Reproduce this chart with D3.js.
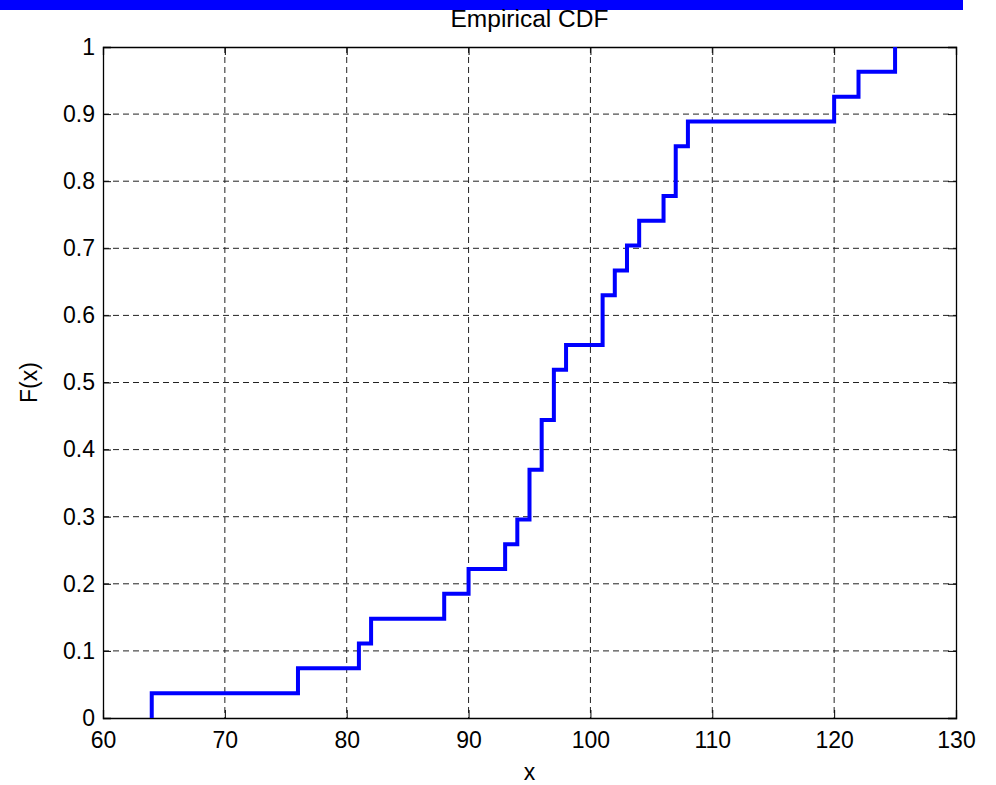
<!DOCTYPE html>
<html>
<head>
<meta charset="utf-8">
<script src="https://cdn.jsdelivr.net/npm/d3@7"></script>
<style>
body{margin:0;background:#fff}
text{font-family:"Liberation Sans",Arial,sans-serif;fill:#000}
</style>
</head>
<body>
<div id="chart"></div>
<script>
// step locations and the cumulative proportion after each step
var stepX = [64,76,81,82,88,90,93,94,95,96,97,98,101,102,103,104,106,107,108,120,122,125]
var stepF = [0.037,0.074,0.111,0.148,0.185,0.222,0.259,0.296,0.370,0.444,0.519,0.556,0.630,0.667,0.704,0.741,0.778,0.852,0.889,0.926,0.963,1]
var xTicks = [60,70,80,90,100,110,120,130]
var yTicks = [0,0.1,0.2,0.3,0.4,0.5,0.6,0.7,0.8,0.9,1]

var W = 996, H = 785
var m = {left:103, right:956, top:47, bottom:718}

var svg = d3.select("#chart").append("svg")
  .attr("width",W).attr("height",H)

var x = d3.scaleLinear().domain([60,130]).range([m.left,m.right])
var y = d3.scaleLinear().domain([0,1]).range([m.bottom,m.top])

// blue strip across the top
svg.append("rect").attr("x",0).attr("y",0).attr("width",963).attr("height",10).attr("fill","#0000ff")

// grid
svg.selectAll(".gx").data(xTicks.slice(1,-1)).enter().append("line")
  .attr("x1",d=>x(d)).attr("x2",d=>x(d)).attr("y1",m.top).attr("y2",m.bottom)
  .attr("stroke","#222").attr("stroke-width",1).attr("stroke-dasharray","6,4")
svg.selectAll(".gy").data(yTicks.slice(1,-1)).enter().append("line")
  .attr("y1",d=>y(d)).attr("y2",d=>y(d)).attr("x1",m.left).attr("x2",m.right)
  .attr("stroke","#222").attr("stroke-width",1).attr("stroke-dasharray","6,4")

// axes (ticks point inward)
var tl = 8
svg.append("g").attr("transform","translate(0,"+m.bottom+")")
  .call(d3.axisBottom(x).tickValues(xTicks).tickSize(-tl).tickPadding(14).tickFormat(d3.format("d")))
svg.append("g").attr("transform","translate(0,"+m.top+")")
  .call(d3.axisTop(x).tickValues(xTicks).tickSize(-tl).tickFormat(""))
svg.append("g").attr("transform","translate("+m.left+",0)")
  .call(d3.axisLeft(y).tickValues(yTicks).tickSize(-tl).tickPadding(8).tickFormat(d=>d===0||d===1?d3.format("d")(d):d3.format(".1f")(d)))
svg.append("g").attr("transform","translate("+m.right+",0)")
  .call(d3.axisRight(y).tickValues(yTicks).tickSize(-tl).tickFormat(""))

svg.selectAll(".domain").attr("stroke","#000").attr("stroke-width",1.3)
svg.selectAll(".tick line").attr("stroke","#000")
svg.selectAll(".tick text").attr("font-size",23).attr("font-family","Liberation Sans, Arial, sans-serif").attr("fill","#000")

// the step curve
var pts = [[stepX[0],0]]
stepX.forEach((v,i)=>{
  pts.push([v,stepF[i]])
  if(i<stepX.length-1) pts.push([stepX[i+1],stepF[i]])
})
svg.append("path").datum(pts)
  .attr("d",d3.line().x(d=>x(d[0])).y(d=>y(d[1])))
  .attr("fill","none").attr("stroke","#0000ff").attr("stroke-width",4)
  .attr("stroke-linejoin","miter")

// labels
svg.append("text").text("Empirical CDF")
  .attr("x",(m.left+m.right)/2).attr("y",27).attr("text-anchor","middle").attr("font-size",23)
  .attr("textLength",158).attr("lengthAdjust","spacingAndGlyphs")
svg.append("text").text("x")
  .attr("x",(m.left+m.right)/2).attr("y",780).attr("text-anchor","middle").attr("font-size",23)
svg.append("text").text("F(x)")
  .attr("transform","translate(37,"+((m.top+m.bottom)/2)+") rotate(-90)")
  .attr("text-anchor","middle").attr("font-size",23)
</script>
</body>
</html>
